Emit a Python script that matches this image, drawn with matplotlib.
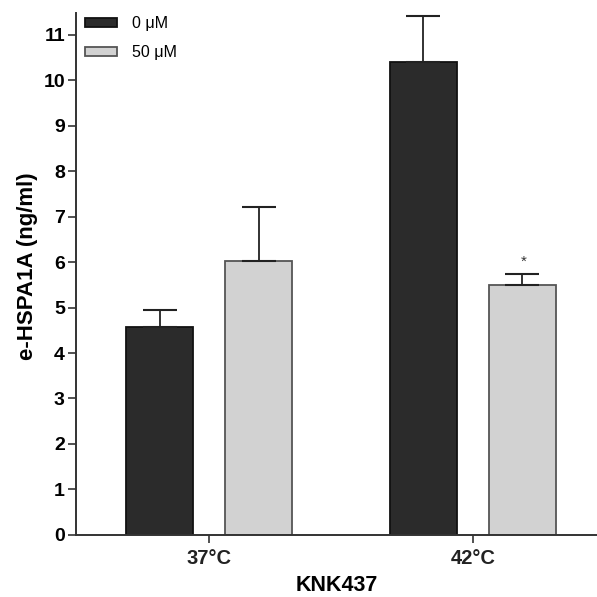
import numpy as np
import matplotlib
matplotlib.use('Agg')
import matplotlib.pyplot as plt

plt.rcParams['font.family'] = ['Liberation Sans', 'DejaVu Sans']

## data
groups = ['37°C', '42°C']
conc = ['0 μM', '50 μM']
mean0 = [4.58, 10.40]
err0 = [0.37, 1.01]
mean50 = [6.02, 5.50]
err50 = [1.19, 0.24]
colors = ['#2b2b2b', '#d2d2d2']
edges = ['#111111', '#555555']

fig = plt.figure(figsize=(5.97, 5.97), dpi=100)
ax = fig.add_axes([0.1273, 0.1039, 0.8727, 0.8748])

x = np.arange(len(groups))
w = 0.254
off = 0.1875
for i, (m, e) in enumerate([(mean0, err0), (mean50, err50)]):
    xs = x + (-off if i == 0 else off)
    ax.bar(xs, m, width=w, color=colors[i], edgecolor=edges[i], linewidth=1.3,
           label=conc[i], zorder=2)
    ax.errorbar(xs, m, yerr=[np.zeros(len(m)), e], fmt='none', ecolor='#222222',
                elinewidth=1.3, capsize=12, capthick=1.5, zorder=3)

# significance marker
ax.text(x[1] + off + 0.005, mean50[1] + err50[1] + 0.12, '*', ha='center', va='bottom',
        fontsize=11, color='#333333')

ax.set_xlim(-0.504, 1.47)
ax.set_ylim(0, 11.48)
ax.set_yticks(range(0, 12))
ax.set_xticks(x)
ax.set_xticklabels(groups, fontsize=14.5, fontweight='bold', color='#222222')
for lab in ax.get_yticklabels():
    lab.set_fontsize(14)
    lab.set_fontweight('bold')
ax.tick_params(axis='both', length=6, width=1.2, color='#333333', pad=2)
ax.tick_params(axis='x', pad=4)
for s in ['top', 'right']:
    ax.spines[s].set_visible(False)
for s in ['left', 'bottom']:
    ax.spines[s].set_linewidth(1.4)
    ax.spines[s].set_color('#333333')

ax.set_ylabel('e-HSPA1A (ng/ml)', fontsize=16, fontweight='bold')
ax.yaxis.set_label_coords(-0.073, 0.515)
ax.set_xlabel('KNK437', fontsize=15.5, fontweight='bold', labelpad=5)

leg = ax.legend(loc='upper left', bbox_to_anchor=(-0.005, 1.015), frameon=False,
                fontsize=11.5, handlelength=2.0, handleheight=0.5,
                labelspacing=0.9, handletextpad=1.0, borderaxespad=0.3)

fig.savefig('out.png', dpi=100, facecolor='w')
